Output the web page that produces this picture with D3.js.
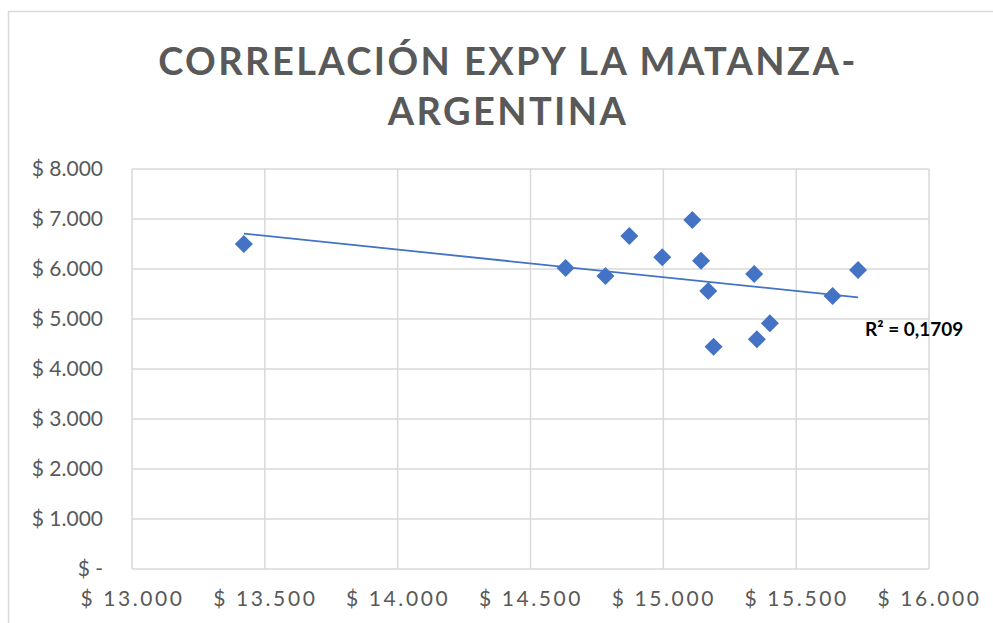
<!DOCTYPE html>
<html>
<head>
<meta charset="utf-8">
<script src="https://cdn.jsdelivr.net/npm/d3@7"></script>
<style>
  body { margin: 0; background: #fff; }
  text { font-family: Lato, "Open Sans", sans-serif; }
</style>
</head>
<body>
<div id="chart"></div>
<script>
// EXPY (x) vs value (y)
var expy = [13421, 14632, 14782, 14872, 14996, 15109, 15142, 15169, 15189, 15342, 15352, 15401, 15637, 15733];
var valor = [6500, 6020, 5860, 6660, 6235, 6980, 6166, 5560, 4446, 5900, 4594, 4914, 5460, 5980];
var xTicks = [13000, 13500, 14000, 14500, 15000, 15500, 16000];
var yTicks = [0, 1000, 2000, 3000, 4000, 5000, 6000, 7000, 8000];
var titleLines = ["CORRELACIÓN EXPY LA MATANZA-", "ARGENTINA"];
var r2Label = "R² = 0,1709";

var W = 993, H = 623;
var margin = {top: 169, right: 64, bottom: 54, left: 132};
var width = W - margin.left - margin.right;
var height = H - margin.top - margin.bottom;
var blue = "#4472C4";

var svg = d3.select("#chart")
  .append("svg")
    .attr("width", W)
    .attr("height", H);

// chart border (cropped on right and bottom)
svg.append("rect")
  .attr("x", 8.5).attr("y", 11.5)
  .attr("width", W + 20).attr("height", H + 20)
  .attr("fill", "none")
  .attr("stroke", "#d9d9d9")
  .attr("stroke-width", 1.5);

// title
svg.selectAll(".title")
  .data(titleLines)
  .enter()
  .append("text")
    .attr("class", "title")
    .attr("x", 508)
    .attr("y", function(d, i) { return 75 + i * 50; })
    .attr("text-anchor", "middle")
    .attr("fill", "#595959")
    .style("font-size", "38px")
    .style("font-weight", "bold")
    .style("letter-spacing", "2.4px")
    .text(function(d) { return d; });

var g = svg.append("g")
  .attr("transform", "translate(" + margin.left + "," + margin.top + ")");

var x = d3.scaleLinear().domain([13000, 16000]).range([0, width]);
var y = d3.scaleLinear().domain([0, 8000]).range([height, 0]);

var fmt = function(v) {
  if (v === 0) return "$ -";
  return "$ " + d3.format(",")(v).replace(/,/g, ".");
};

// gridlines
g.selectAll(".vgrid")
  .data(xTicks)
  .enter()
  .append("line")
    .attr("x1", function(d) { return x(d); })
    .attr("x2", function(d) { return x(d); })
    .attr("y1", 0).attr("y2", height)
    .attr("stroke", "#d9d9d9")
    .attr("stroke-width", 1.5);

g.selectAll(".hgrid")
  .data(yTicks)
  .enter()
  .append("line")
    .attr("x1", 0).attr("x2", width)
    .attr("y1", function(d) { return y(d); })
    .attr("y2", function(d) { return y(d); })
    .attr("stroke", "#d9d9d9")
    .attr("stroke-width", 1.5);

// axes (labels only)
var yAxis = g.append("g")
  .call(d3.axisLeft(y).tickValues(yTicks).tickFormat(fmt).tickSize(0).tickPadding(29));
yAxis.select(".domain").remove();
yAxis.selectAll("text")
  .attr("fill", "#595959")
  .style("font-size", "21px");

var xAxis = g.append("g")
  .attr("transform", "translate(0," + height + ")")
  .call(d3.axisBottom(x).tickValues(xTicks).tickFormat(fmt).tickSize(0).tickPadding(22));
xAxis.select(".domain").remove();
xAxis.selectAll("text")
  .attr("fill", "#595959")
  .style("font-size", "21px")
  .style("letter-spacing", "2.6px");

// linear trendline (least squares)
var mx = d3.mean(expy), my = d3.mean(valor);
var sxy = d3.sum(expy, function(d, i) { return (d - mx) * (valor[i] - my); });
var sxx = d3.sum(expy, function(d) { return (d - mx) * (d - mx); });
var slope = sxy / sxx, icpt = my - slope * mx;
var ends = d3.extent(expy);

g.append("line")
  .attr("x1", x(ends[0])).attr("y1", y(icpt + slope * ends[0]))
  .attr("x2", x(ends[1])).attr("y2", y(icpt + slope * ends[1]))
  .attr("stroke", blue)
  .attr("stroke-width", 1.8);

// points
g.selectAll(".pt")
  .data(expy)
  .enter()
  .append("path")
    .attr("class", "pt")
    .attr("d", "M0,-9L9,0L0,9L-9,0Z")
    .attr("transform", function(d, i) { return "translate(" + x(d) + "," + y(valor[i]) + ")"; })
    .attr("fill", blue);

svg.append("text")
  .attr("x", 865)
  .attr("y", 336)
  .attr("fill", "#000")
  .style("font-size", "19px")
  .style("font-weight", "bold")
  .text(r2Label);
</script>
</body>
</html>
